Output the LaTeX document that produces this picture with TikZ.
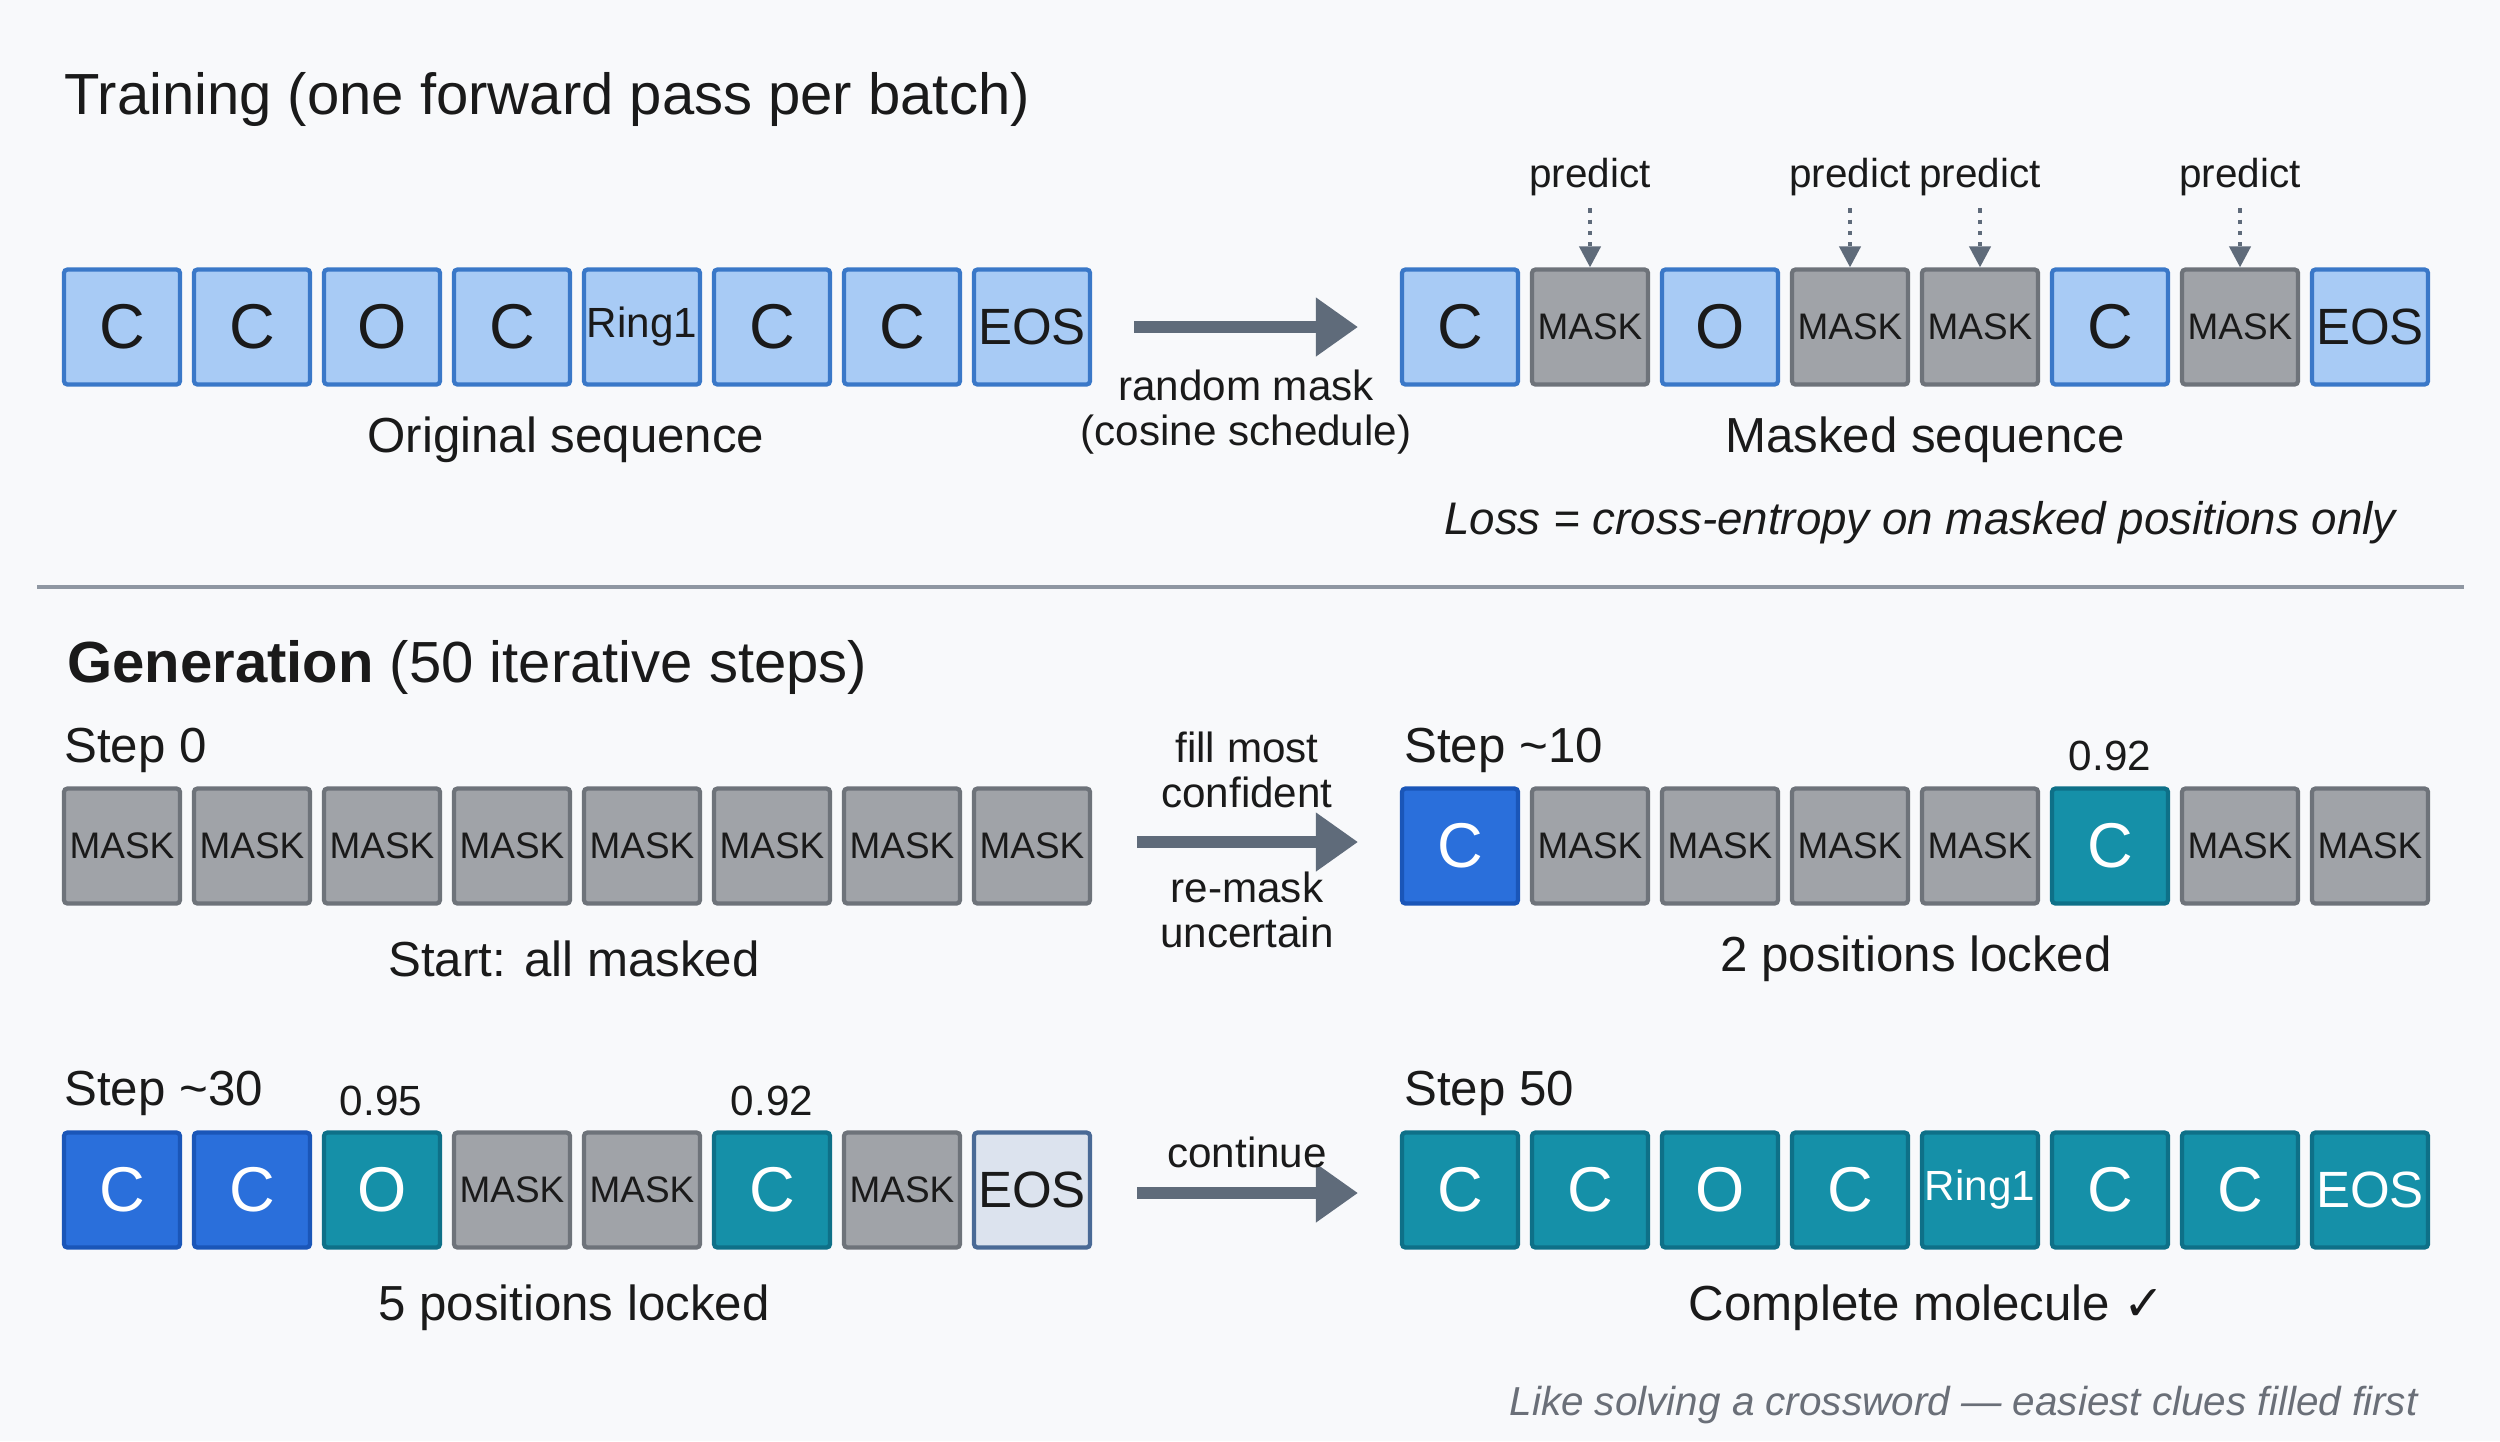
\documentclass[tikz,border=0pt]{standalone}
\usepackage{fontspec}
\setmainfont{Liberation Sans}
\newfontfamily\sym{DejaVu Sans}
\usetikzlibrary{arrows.meta}
\definecolor{bg}{HTML}{F8F9FB}
\definecolor{lbF}{HTML}{A8CBF5}\definecolor{lbD}{HTML}{3A78C8}
\definecolor{mkF}{HTML}{A0A3A8}\definecolor{mkD}{HTML}{6E737A}
\definecolor{bbF}{HTML}{2A6FDB}\definecolor{bbD}{HTML}{1A56B8}
\definecolor{tlF}{HTML}{1590A8}\definecolor{tlD}{HTML}{0E7088}
\definecolor{eoF}{HTML}{DCE3EE}\definecolor{eoD}{HTML}{4A6A96}
\definecolor{arr}{HTML}{5F6B7A}\definecolor{txt}{HTML}{1A1A1A}
\definecolor{foot}{HTML}{6A6F78}
\tikzset{
 box/.style={draw, line width=1.2pt, minimum width=1.16cm, minimum height=1.15cm, rounded corners=1pt, inner sep=0pt, font=\fontsize{18}{18}\selectfont, text=txt},
 rf/.style={font=\fontsize{12}{13}\selectfont},
 ef/.style={font=\fontsize{14.5}{15}\selectfont},
 orig/.style={box, fill=lbF, draw=lbD},
 origR/.style={orig, rf}, origE/.style={orig, ef},
 mk/.style={box, fill=mkF, draw=mkD, font=\fontsize{10.5}{12}\selectfont},
 bb/.style={box, fill=bbF, draw=bbD, text=white},
 tl/.style={box, fill=tlF, draw=tlD, text=white},
 tlR/.style={tl, rf}, tlE/.style={tl, ef},
 eo/.style={box, fill=eoF, draw=eoD, ef},
 lab/.style={font=\fontsize{14}{16}\selectfont, text=txt},
 small/.style={font=\fontsize{12}{13}\selectfont, text=txt, align=center},
 bigarrow/.style={draw=arr, line width=3.2pt, -{Triangle[length=12pt,width=16pt]}},
 pred/.style={draw=arr, line width=1.2pt, dotted, -{Triangle[length=6pt,width=6pt]}},
}
\begin{document}
\begin{tikzpicture}[x=0.01cm,y=-0.01cm]
\fill[bg] (0,0) rectangle (2500,1441);
\useasboundingbox (0,0) rectangle (2500,1441);
\node[anchor=west, font=\fontsize{16.5}{18}\selectfont, text=txt] (t1) at (52,99) {Training (one forward pass per batch)};
\foreach \t/\s [count=\i from 0] in {C/orig,C/orig,O/orig,C/orig,Ring1/origR,C/orig,C/orig,EOS/origE}{
 \node[\s] (a\i) at (122+130*\i,327) {\t};}
\foreach \t/\s [count=\i from 0] in {C/orig,MASK/mk,O/orig,MASK/mk,MASK/mk,C/orig,MASK/mk,EOS/origE}{
 \node[\s] (b\i) at (1460+130*\i,327) {\t};}
\foreach \i in {1,3,4,6}{
 \node[font=\fontsize{11.5}{12}\selectfont, text=txt] (p\i) at (1460+130*\i,177) {predict};
 \draw[pred] (p\i.south) -- (b\i.north);}
\coordinate (ar1s) at (1134,327); \coordinate (ar1e) at (1358,327);
\draw[bigarrow] (ar1s) -- (ar1e);
\node[small] (rm) at (1246,412) {random mask\\(cosine schedule)};
\node[lab] (os) at (566,440) {Original sequence};
\node[lab] (ms) at (1925,440) {Masked sequence};
\node[lab, font=\fontsize{13}{15}\selectfont\itshape] (loss) at (1920,523) {Loss = cross-entropy on masked positions only};
\coordinate (d1) at (37,587); \coordinate (d2) at (2464,587);
\draw[arr!70, line width=1pt] (d1) -- (d2);
\node[anchor=west, font=\fontsize{16.5}{18}\selectfont, text=txt] (t2) at (55,667) {\textbf{Generation} (50 iterative steps)};
\node[anchor=west, lab] (s0) at (52,750) {Step 0};
\foreach \i in {0,...,7}{\node[mk] (c\i) at (122+130*\i,846) {MASK};}
\foreach \t/\s [count=\i from 0] in {C/bb,MASK/mk,MASK/mk,MASK/mk,MASK/mk,C/tl,MASK/mk,MASK/mk}{
 \node[\s] (d\i) at (1460+130*\i,846) {\t};}
\node[anchor=west, lab] (s10) at (1392,750) {Step \textasciitilde10};
\node[small] (q1) at (2110,756) {0.92};
\coordinate (ar2s) at (1137,842); \coordinate (ar2e) at (1358,842);
\draw[bigarrow] (ar2s) -- (ar2e);
\node[small] (fm) at (1247,770) {fill most\\confident};
\node[small] (ru) at (1247,910) {re-mask\\uncertain};
\node[lab] (sa) at (574,959) {Start: all masked};
\node[lab] (pl2) at (1916,959) {2 positions locked};
\node[anchor=west, lab] (s30) at (52,1093) {Step \textasciitilde30};
\foreach \t/\s [count=\i from 0] in {C/bb,C/bb,O/tl,MASK/mk,MASK/mk,C/tl,MASK/mk,EOS/eo}{
 \node[\s] (e\i) at (122+130*\i,1190) {\t};}
\node[small] (q2) at (381,1101) {0.95};
\node[small] (q3) at (772,1101) {0.92};
\foreach \t/\s [count=\i from 0] in {C/tl,C/tl,O/tl,C/tl,Ring1/tlR,C/tl,C/tl,EOS/tlE}{
 \node[\s] (f\i) at (1460+130*\i,1190) {\t};}
\node[anchor=west, lab] (s50) at (1392,1093) {Step 50};
\coordinate (ar3s) at (1137,1193); \coordinate (ar3e) at (1358,1193);
\draw[bigarrow] (ar3s) -- (ar3e);
\node[small] (co) at (1247,1152) {continue};
\node[lab] (pl5) at (574,1308) {5 positions locked};
\node[lab] (cm) at (1927,1308) {Complete molecule {\sym ✓}};
\node[anchor=east, font=\fontsize{11.5}{13}\selectfont\itshape, text=foot] (ft) at (2430,1405) {Like solving a crossword — easiest clues filled first};
\end{tikzpicture}
\end{document}
